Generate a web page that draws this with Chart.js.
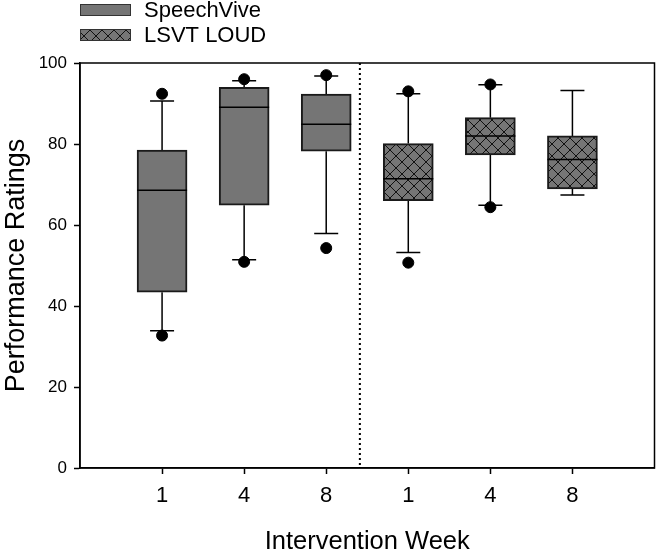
<!DOCTYPE html>
<html>
<head>
<meta charset="utf-8">
<script src="https://cdn.jsdelivr.net/npm/chart.js@4.4.0/dist/chart.umd.min.js"></script>
<style>
  html, body { margin: 0; padding: 0; background: #fff; }
  #wrap { width: 661px; height: 554px; }
</style>
</head>
<body>
<div id="wrap"><canvas id="chart" width="661" height="554"></canvas></div>
<script>
// week labels along the x axis, and where each box sits
const weekLabels = ['1', '4', '8', '1', '4', '8'];
const speechViveX = [1, 2, 3];
const lsvtX = [4, 5, 6];

// SpeechVive boxes (weeks 1, 4, 8)
const svQ1 = [43.4, 64.9, 78.2];
const svMedian = [68.6, 89.1, 84.9];
const svQ3 = [78.5, 94.0, 92.3];
const svWhiskerLow = [33.9, 51.4, 57.9];
const svWhiskerHigh = [90.6, 95.6, 96.8];
const svOutliers = [[32.7, 92.4], [50.9, 96.0], [54.3, 97.0]];

// LSVT LOUD boxes (weeks 1, 4, 8)
const lsvtQ1 = [66.0, 77.3, 68.9];
const lsvtMedian = [71.4, 82.0, 76.2];
const lsvtQ3 = [80.1, 86.5, 82.0];
const lsvtWhiskerLow = [53.2, 64.9, 67.4];
const lsvtWhiskerHigh = [92.4, 94.6, 93.2];
const lsvtOutliers = [[50.7, 93.0], [64.4, 94.7], []];

const yTicks = [0, 20, 40, 60, 80, 100];
const dividerAt = 3.41;

const GRAY = '#757575';
const FONT = "'Liberation Sans', Arial, sans-serif";

// crosshatch fill for the LSVT boxes
function makeHatch() {
    const c = document.createElement('canvas');
    c.width = 12;
    c.height = 12;
    const g = c.getContext('2d');
    g.fillStyle = GRAY;
    g.fillRect(0, 0, 12, 12);
    g.strokeStyle = '#111';
    g.lineWidth = 1;
    g.beginPath();
    g.moveTo(0, 0); g.lineTo(12, 12);
    g.moveTo(12, 0); g.lineTo(0, 12);
    g.stroke();
    return g.createPattern(c, 'repeat');
}
const hatch = makeHatch();

const outlierPoints = [];
speechViveX.forEach((x, i) => svOutliers[i].forEach(v => outlierPoints.push({ x: x, y: v })));
lsvtX.forEach((x, i) => lsvtOutliers[i].forEach(v => outlierPoints.push({ x: x, y: v })));

const groups = [
    { x: speechViveX, q1: svQ1, med: svMedian, q3: svQ3, lo: svWhiskerLow, hi: svWhiskerHigh },
    { x: lsvtX, q1: lsvtQ1, med: lsvtMedian, q3: lsvtQ3, lo: lsvtWhiskerLow, hi: lsvtWhiskerHigh }
];

// whiskers + caps go under the boxes, medians on top
const boxParts = {
    id: 'boxParts',
    beforeDatasetsDraw(chart) {
        const { ctx, scales: { x, y } } = chart;
        ctx.save();
        ctx.strokeStyle = '#000';
        ctx.lineWidth = 1.5;
        groups.forEach(gr => {
            gr.x.forEach((xv, i) => {
                const px = x.getPixelForValue(xv);
                ctx.beginPath();
                ctx.moveTo(px, y.getPixelForValue(gr.q3[i]));
                ctx.lineTo(px, y.getPixelForValue(gr.hi[i]));
                ctx.moveTo(px, y.getPixelForValue(gr.q1[i]));
                ctx.lineTo(px, y.getPixelForValue(gr.lo[i]));
                [gr.hi[i], gr.lo[i]].forEach(v => {
                    const py = y.getPixelForValue(v);
                    ctx.moveTo(px - 12, py);
                    ctx.lineTo(px + 12, py);
                });
                ctx.stroke();
            });
        });
        // dotted divider between the two treatments
        const dx = x.getPixelForValue(dividerAt);
        ctx.lineWidth = 2;
        ctx.setLineDash([2, 3]);
        ctx.beginPath();
        ctx.moveTo(dx, chart.chartArea.top);
        ctx.lineTo(dx, chart.chartArea.bottom);
        ctx.stroke();
        ctx.restore();
    },
    afterDatasetsDraw(chart) {
        const { ctx, scales: { y } } = chart;
        ctx.save();
        ctx.strokeStyle = '#000';
        ctx.lineWidth = 1.5;
        groups.forEach((gr, d) => {
            const meta = chart.getDatasetMeta(d);
            gr.med.forEach((m, i) => {
                const bar = meta.data[i];
                const py = y.getPixelForValue(m);
                ctx.beginPath();
                ctx.moveTo(bar.x - bar.width / 2, py);
                ctx.lineTo(bar.x + bar.width / 2, py);
                ctx.stroke();
            });
        });
        // frame around the plot
        const a = chart.chartArea;
        ctx.lineWidth = 1.5;
        ctx.strokeRect(a.left, a.top, a.right - a.left, a.bottom - a.top);
        ctx.restore();
    }
};

// legend stacked at the top left
const topLegend = {
    id: 'topLegend',
    afterDraw(chart) {
        const ctx = chart.ctx;
        ctx.save();
        ctx.font = '22px ' + FONT;
        ctx.textBaseline = 'middle';
        [0, 1].forEach(d => {
            const ds = chart.data.datasets[d];
            const top = 4 + d * 25;
            ctx.fillStyle = ds.backgroundColor;
            ctx.fillRect(80, top, 51, 12);
            ctx.strokeStyle = '#333';
            ctx.lineWidth = 1;
            ctx.strokeRect(80.5, top + 0.5, 50, 11);
            ctx.fillStyle = '#000';
            ctx.fillText(ds.label, 144, top + 7);
        });
        ctx.restore();
    }
};

new Chart(document.getElementById('chart'), {
    type: 'bar',
    data: {
        datasets: [
            {
                label: 'SpeechVive',
                data: speechViveX.map((x, i) => ({ x: x, y: [svQ1[i], svQ3[i]] })),
                backgroundColor: GRAY,
                borderColor: '#1a1a1a',
                borderWidth: 2,
                borderSkipped: false,
                barThickness: 50,
                grouped: false
            },
            {
                label: 'LSVT LOUD',
                data: lsvtX.map((x, i) => ({ x: x, y: [lsvtQ1[i], lsvtQ3[i]] })),
                backgroundColor: hatch,
                borderColor: '#1a1a1a',
                borderWidth: 2,
                borderSkipped: false,
                barThickness: 50,
                grouped: false
            },
            {
                type: 'scatter',
                label: 'outliers',
                data: outlierPoints,
                backgroundColor: '#000',
                borderColor: '#000',
                pointRadius: 5.5,
                order: -1
            }
        ]
    },
    options: {
        responsive: false,
        animation: false,
        layout: { padding: { top: 63, right: 3, left: 0, bottom: 0 } },
        plugins: {
            legend: { display: false },
            tooltip: { enabled: false }
        },
        scales: {
            x: {
                type: 'linear',
                min: 0,
                max: 7,
                offset: false,
                afterBuildTicks: scale => { scale.ticks = speechViveX.concat(lsvtX).map(v => ({ value: v })); },
                afterFit: scale => { scale.height = 86; },
                ticks: {
                    color: '#000',
                    font: { family: FONT, size: 22 },
                    padding: 9,
                    maxRotation: 0,
                    callback: v => weekLabels[speechViveX.concat(lsvtX).indexOf(v)]
                },
                grid: { offset: false, drawOnChartArea: false, color: '#000', tickLength: 6, tickWidth: 1.5 },
                border: { color: '#000', width: 1.5 },
                title: {
                    display: true,
                    text: 'Intervention Week',
                    color: '#000',
                    font: { family: FONT, size: 25.5 },
                    padding: { top: 0, bottom: -3 }
                }
            },
            y: {
                min: 0,
                max: 100,
                afterBuildTicks: scale => { scale.ticks = yTicks.map(v => ({ value: v })); },
                afterFit: scale => { scale.width = 80; },
                ticks: {
                    color: '#000',
                    font: { family: FONT, size: 17 },
                    padding: 7
                },
                grid: { drawOnChartArea: false, color: '#000', tickLength: 6, tickWidth: 1.5 },
                border: { color: '#000', width: 1.5 },
                title: {
                    display: true,
                    text: 'Performance Ratings',
                    color: '#000',
                    font: { family: FONT, size: 27 },
                    padding: { top: 0, bottom: 0 }
                }
            }
        }
    },
    plugins: [boxParts, topLegend]
});
</script>
</body>
</html>
